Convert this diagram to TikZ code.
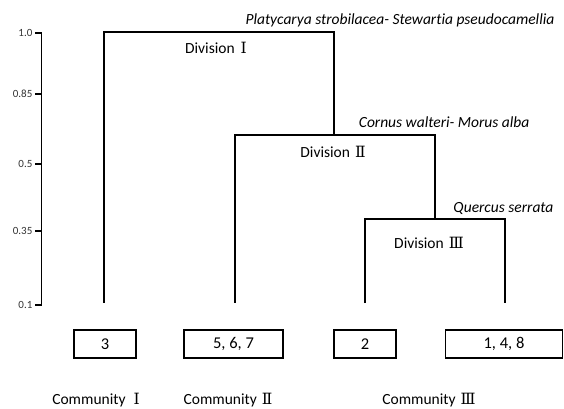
\documentclass[tikz,border=0pt]{standalone}
\usepackage{fontspec}
\setmainfont{Carlito}[Ligatures=NoCommon]
\newfontfamily\romfont{DejaVu Serif}

\tikzset{
  leaf/.style={draw, minimum height=28pt, inner sep=0pt, font=\fontsize{16.5}{18}\selectfont},
  divlabel/.style={inner sep=0pt, font=\fontsize{15.5}{17}\selectfont},
  species/.style={inner sep=0pt, anchor=east, font=\fontsize{15.5}{17}\selectfont\itshape},
  ticklabel/.style={inner sep=0pt, anchor=east, text=black!80, font=\fontsize{11}{12}\selectfont}
}

\begin{document}
\begin{tikzpicture}[x=1pt,y=1pt,line width=1.2pt]
  \useasboundingbox (0,0) rectangle (564,408);

  % similarity axis
  \coordinate (axtop) at (41.5,375);
  \coordinate (axbot) at (41.5,103);
  \draw (axtop) -- (axbot);
  \foreach \y/\lab [count=\i] in {375/1.0, 314/0.85, 244/0.5, 177/0.35, 103/0.1} {
    \coordinate (tk\i) at (41.5,\y);
    \node[ticklabel] (tl\i) at (33,\y) {\lab};
    \draw (tk\i) -- ++(-6.5,0);
  }

  % communities
  \node[leaf, minimum width=62pt] (c3) at (105,64) {3};
  \node[leaf, minimum width=99pt] (c567) at (233.5,64) {5, 6, 7};
  \node[leaf, minimum width=62pt] (c2) at (365,64) {2};
  \node[leaf, minimum width=117pt] (c148) at (504,64) {1, 4, 8};

  % dendrogram
  \coordinate (l3) at (104,105);
  \coordinate (l567) at (235,105);
  \coordinate (l2) at (365,105);
  \coordinate (l148) at (505,105);
  \coordinate (j3) at (435,189);
  \coordinate (j2) at (334,273);
  \coordinate (j1) at (219,376);
  \draw (l2) |- (j3) -| (l148);
  \draw (j3) |- (j2) -| (l567);
  \draw (j2) |- (j1) -| (l3);

  \node[divlabel] (div1) at (216,360) {Division\hspace{6pt}\romfont Ⅰ};
  \node[divlabel] (div2) at (333,256) {Division\hspace{5pt}\romfont Ⅱ};
  \node[divlabel] (div3) at (429,165) {Division\hspace{5pt}\romfont Ⅲ};

  \node[species] (sp1) at (555,388) {Platycarya strobilacea- Stewartia pseudocamellia};
  \node[species] (sp2) at (530,286) {Cornus walteri- Morus alba};
  \node[species] (sp3) at (554,200) {Quercus serrata};

  \node[divlabel] (com1) at (96,8) {Community\hspace{8pt}\romfont Ⅰ};
  \node[divlabel] (com2) at (228,8) {Community\hspace{5pt}\romfont Ⅱ};
  \node[divlabel] (com3) at (429,8) {Community\hspace{5pt}\romfont Ⅲ};
\end{tikzpicture}
\end{document}
